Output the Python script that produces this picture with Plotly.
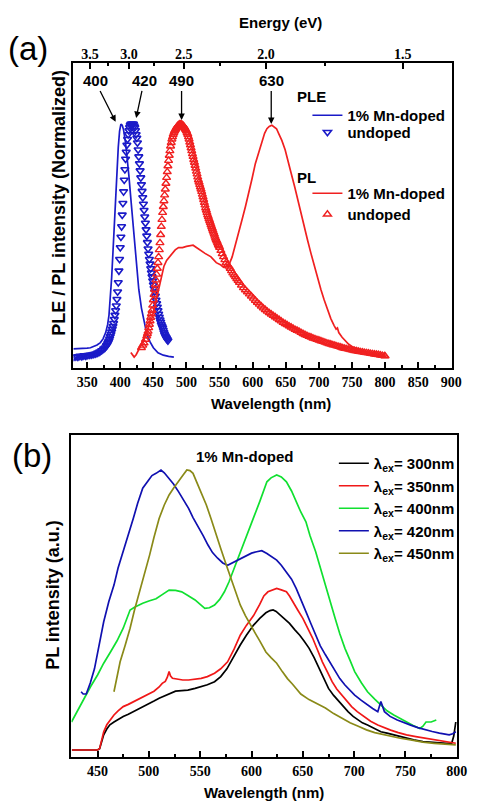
import plotly.graph_objects as go

# ---------------- panel (a): PLE / PL spectra (normalized) ----------------
ple_doped_wl = [329, 335, 340, 345, 350, 355, 360, 365, 370, 374, 378, 381, 383, 385, 387, 389, 391, 393,
                395, 397, 399, 401, 403, 405, 408, 410, 413, 416, 419, 422, 425, 428, 432, 436, 440, 445,
                450, 457, 465, 473, 481]
ple_doped_val = [0.035, 0.035, 0.036, 0.037, 0.038, 0.04, 0.045, 0.052, 0.062, 0.078, 0.105, 0.14, 0.18, 0.25,
                 0.34, 0.45, 0.57, 0.69, 0.80, 0.90, 0.97, 1.0, 0.995, 0.975, 0.92, 0.87, 0.78, 0.68, 0.58,
                 0.47, 0.37, 0.29, 0.21, 0.15, 0.10, 0.065, 0.04, 0.018, 0.008, 0.003, 0.0]

ple_undoped_wl = [330, 333, 336, 339, 342, 345, 348, 351, 354, 357, 360, 363, 366, 369, 372, 375, 377, 379,
                  380, 381, 382, 383, 384, 385, 386, 387, 388, 389, 390, 391, 392, 393, 394, 395, 396, 397,
                  398, 399, 400, 401, 402, 403, 404, 405, 406, 407, 408, 409, 410, 411, 412, 413, 414, 415,
                  416, 417, 418, 419, 420, 421, 422, 423, 424, 425, 426, 427, 428, 429, 430, 431, 432, 433,
                  434, 435, 436, 437, 438, 439, 440, 441, 442, 443, 444, 445, 446, 447, 448, 449, 450, 451,
                  452, 453, 454, 455, 456, 457, 458, 459, 460, 461, 462, 463, 464, 465, 466, 467, 468, 469,
                  470, 471, 472]
ple_undoped_val = [0.0, 0.002, 0.0, 0.004, 0.003, 0.006, 0.005, 0.008, 0.009, 0.01, 0.012, 0.014, 0.018,
                   0.022, 0.028, 0.035, 0.04, 0.048, 0.052, 0.058, 0.064, 0.07, 0.078, 0.088, 0.098, 0.108,
                   0.12, 0.132, 0.145, 0.162, 0.18, 0.2, 0.22, 0.248, 0.28, 0.32, 0.37, 0.42, 0.47, 0.515,
                   0.56, 0.61, 0.66, 0.71, 0.76, 0.805, 0.85, 0.88, 0.91, 0.935, 0.955, 0.972, 0.985, 0.995,
                   1.0, 1.0, 1.0, 1.0, 1.0, 0.993, 0.985, 0.972, 0.955, 0.94, 0.92, 0.89, 0.86, 0.83, 0.80,
                   0.77, 0.74, 0.712, 0.685, 0.657, 0.63, 0.602, 0.575, 0.547, 0.52, 0.492, 0.465, 0.442,
                   0.42, 0.40, 0.38, 0.362, 0.345, 0.327, 0.31, 0.295, 0.28, 0.262, 0.245, 0.23, 0.215, 0.20,
                   0.185, 0.172, 0.16, 0.15, 0.14, 0.132, 0.125, 0.115, 0.105, 0.097, 0.09, 0.085, 0.08,
                   0.075, 0.07]

pl_doped_wl = [416, 418, 421, 424, 428, 432, 435, 438, 442, 445, 448, 452, 455.5, 459, 463, 466, 470, 474,
               478, 483, 488, 494, 500, 505, 510, 515, 520, 528, 537, 545, 552, 556, 560, 564, 569, 574,
               579, 584, 589, 594, 599, 604, 609, 614, 618, 621.5, 625, 629, 632, 636, 640, 644, 649,
               653.5, 658, 663.5, 668, 673.5, 678, 683, 688, 693, 698, 703, 708, 713, 718, 723, 726, 728,
               730, 735, 740, 745, 750, 756, 762, 770, 780, 790, 800]
pl_doped_val = [0.02, 0.01, 0.0, 0.01, 0.03, 0.05, 0.07, 0.09, 0.12, 0.145, 0.17, 0.215, 0.26, 0.31, 0.36,
                0.39, 0.415, 0.43, 0.445, 0.46, 0.47, 0.47, 0.475, 0.478, 0.48, 0.47, 0.46, 0.445, 0.43,
                0.405, 0.395, 0.385, 0.39, 0.395, 0.43, 0.48, 0.535, 0.59, 0.645, 0.70, 0.765, 0.83, 0.88,
                0.93, 0.96, 0.98, 0.99, 0.995, 0.99, 0.98, 0.955, 0.93, 0.89, 0.845, 0.79, 0.73, 0.675,
                0.617, 0.56, 0.50, 0.445, 0.39, 0.34, 0.29, 0.245, 0.20, 0.165, 0.135, 0.12, 0.125, 0.105,
                0.085, 0.068, 0.055, 0.045, 0.036, 0.03, 0.022, 0.016, 0.01, 0.004]

pl_undoped_wl = [432, 434, 436, 438, 440, 441, 442, 443, 444, 445, 446, 447, 448, 449, 450, 451, 452, 453,
                 454, 455, 456, 457, 458, 459, 460, 461, 462, 463, 464, 465, 466, 467, 468, 469, 470, 471,
                 472, 473, 474, 475, 476, 477, 478, 479, 480, 481, 482, 483, 484, 485, 486, 487, 488, 489,
                 490, 491, 492, 493, 494, 495, 496, 497, 498, 499, 500, 501, 502, 503, 504, 505, 506, 507,
                 508, 509, 510, 511, 512, 513, 514, 515, 516, 517, 518, 519, 520, 521, 522, 523, 524, 525,
                 526, 527, 528, 529, 530, 531, 532, 533, 534, 535, 536, 537, 538, 539, 540, 541, 542, 543,
                 544, 545, 546, 547, 548, 549, 550, 552, 554, 556, 558, 560, 562, 564, 566, 568, 570, 572,
                 574, 576, 578, 580, 583, 586, 589, 592, 595, 598, 601, 604, 607, 610, 613, 616, 619, 622,
                 625, 628, 631, 634, 637, 640, 643, 646, 649, 652, 655, 658, 661, 664, 667, 670, 673, 676,
                 679, 682, 685, 688, 691, 694, 697, 700, 703, 706, 709, 712, 715, 718, 721, 724, 727, 730,
                 733, 736, 739, 742, 745, 748, 751, 754, 757, 760, 763, 766, 769, 772, 775, 778, 781, 784,
                 787, 790, 793, 796, 799, 800]
pl_undoped_val = [0.04, 0.05, 0.06, 0.075, 0.09, 0.10, 0.11, 0.125, 0.14, 0.155, 0.17, 0.185, 0.20, 0.222,
                  0.245, 0.268, 0.29, 0.31, 0.33, 0.355, 0.38, 0.405, 0.43, 0.46, 0.49, 0.525, 0.56, 0.59,
                  0.62, 0.645, 0.67, 0.695, 0.72, 0.745, 0.77, 0.795, 0.82, 0.843, 0.865, 0.885, 0.905,
                  0.92, 0.935, 0.945, 0.955, 0.963, 0.97, 0.975, 0.98, 0.985, 0.99, 0.993, 0.995, 0.998,
                  1.0, 1.0, 1.0, 0.998, 0.995, 0.993, 0.99, 0.985, 0.98, 0.975, 0.97, 0.962, 0.955, 0.945,
                  0.935, 0.922, 0.91, 0.897, 0.885, 0.872, 0.86, 0.847, 0.835, 0.822, 0.81, 0.797, 0.785,
                  0.772, 0.76, 0.75, 0.74, 0.73, 0.72, 0.71, 0.698, 0.687, 0.675, 0.663, 0.652, 0.64, 0.63,
                  0.62, 0.61, 0.602, 0.593, 0.585, 0.577, 0.568, 0.56, 0.552, 0.543, 0.535, 0.527, 0.518,
                  0.51, 0.503, 0.497, 0.49, 0.483, 0.477, 0.47, 0.457, 0.443, 0.43, 0.417, 0.405, 0.395,
                  0.389, 0.38, 0.37, 0.36, 0.352, 0.344, 0.336, 0.328, 0.32, 0.308, 0.297, 0.288, 0.279,
                  0.27, 0.261, 0.252, 0.243, 0.234, 0.226, 0.218, 0.21, 0.203, 0.196, 0.19, 0.184, 0.178,
                  0.172, 0.166, 0.16, 0.154, 0.148, 0.143, 0.138, 0.133, 0.128, 0.123, 0.118, 0.114, 0.11,
                  0.105, 0.10, 0.096, 0.092, 0.088, 0.085, 0.081, 0.078, 0.075, 0.072, 0.069, 0.066, 0.063,
                  0.06, 0.057, 0.055, 0.052, 0.05, 0.047, 0.045, 0.042, 0.039, 0.037, 0.035, 0.033, 0.031,
                  0.029, 0.027, 0.026, 0.024, 0.022, 0.021, 0.019, 0.018, 0.017, 0.015, 0.014, 0.012, 0.011,
                  0.01, 0.008, 0.006, 0.005, 0.004]

# peak markers: wavelength label, arrow tip (wl, value)
peak_labels = ["400", "420", "490", "630"]
peak_tip_wl = [393, 424, 492.6, 628]
peak_tip_val = [1.01, 1.026, 1.017, 1.0]
peak_text_wl = [362, 436, 492.6, 628]

# top axis: photon energy
energy_major = [3.5, 3.0, 2.5, 2.0, 1.5]
energy_minor = [3.25, 2.75, 2.25, 1.75]
HC = 1240.0  # eV*nm

# ---------------- panel (b): PL of 1% Mn-doped at several excitations ----------------
ex300_wl = [425, 430, 435, 440, 445, 450, 452, 454, 456, 459, 462, 466, 470, 475, 480, 485, 490, 495, 500,
            505, 510, 515, 520, 526, 532, 538, 545, 551, 557, 564, 570, 576, 582, 589, 595, 602, 608, 614,
            618, 621, 624, 628, 632, 637, 642, 647, 651, 656, 661, 666, 670, 675, 680, 685, 690, 694, 699,
            704, 708, 713, 719, 726, 732, 738, 745, 751, 758, 767, 775, 783, 790, 795, 797, 799]
ex300_val = [0, 0, 0, 0, 0, 0, 0.005, 0.03, 0.054, 0.075, 0.09, 0.10, 0.11, 0.12, 0.128, 0.137, 0.146,
             0.155, 0.165, 0.175, 0.185, 0.192, 0.2, 0.21, 0.212, 0.214, 0.22, 0.226, 0.233, 0.244, 0.262,
             0.29, 0.33, 0.375, 0.41, 0.446, 0.47, 0.49, 0.498, 0.5, 0.495, 0.482, 0.47, 0.452, 0.43, 0.41,
             0.39, 0.364, 0.33, 0.29, 0.255, 0.22, 0.195, 0.173, 0.152, 0.137, 0.12, 0.107, 0.097, 0.089,
             0.077, 0.065, 0.06, 0.054, 0.048, 0.042, 0.036, 0.03, 0.027, 0.024, 0.024, 0.024, 0.05, 0.1]

ex350_wl = [425, 430, 435, 440, 445, 450, 452, 454, 456, 459, 462, 466, 470, 475, 480, 485, 490, 495, 500,
            505, 510, 513, 516, 518, 519.7, 521, 523, 528, 533, 538.7, 545, 551, 557, 564, 570, 576.7, 583,
            589, 595, 602, 608, 612, 616, 620, 624.5, 629, 634, 637, 640.5, 645, 650, 655, 659.5, 664, 669,
            674, 678.5, 683, 688, 693, 697.5, 703, 710, 716, 723, 729, 735.5, 743, 751, 760, 770, 780, 789,
            799]
ex350_val = [0, 0, 0, 0, 0, 0, 0.005, 0.035, 0.065, 0.09, 0.105, 0.125, 0.14, 0.155, 0.163, 0.172, 0.18,
             0.19, 0.2, 0.21, 0.225, 0.238, 0.245, 0.26, 0.28, 0.265, 0.256, 0.252, 0.25, 0.25, 0.252,
             0.256, 0.262, 0.274, 0.29, 0.315, 0.36, 0.41, 0.445, 0.48, 0.52, 0.55, 0.565, 0.572, 0.577,
             0.572, 0.565, 0.55, 0.53, 0.5, 0.47, 0.435, 0.40, 0.36, 0.315, 0.278, 0.244, 0.218, 0.196,
             0.175, 0.155, 0.137, 0.119, 0.103, 0.089, 0.08, 0.071, 0.062, 0.054, 0.048, 0.042, 0.036,
             0.03, 0.024]

ex400_wl = [424.6, 430, 437, 443, 450, 456, 462.6, 469, 475, 479, 481.7, 486, 490, 494, 500, 507, 513,
            519.7, 526, 532, 538, 545, 550, 554.5, 559, 564, 569, 573.6, 578, 583, 589, 595.6, 602, 608,
            612, 615, 619, 624.5, 629, 634, 639, 643.5, 648, 653, 657, 662.5, 667, 672, 677, 681.5, 686,
            691, 696, 700.5, 707, 713, 720, 726, 732, 738.6, 745, 751, 757, 764, 767, 770, 775, 780]
ex400_val = [0.10, 0.137, 0.185, 0.225, 0.268, 0.31, 0.35, 0.39, 0.435, 0.47, 0.5, 0.51, 0.518, 0.524,
             0.532, 0.54, 0.555, 0.571, 0.57, 0.565, 0.552, 0.536, 0.52, 0.506, 0.508, 0.518, 0.538,
             0.565, 0.6, 0.649, 0.71, 0.768, 0.83, 0.887, 0.93, 0.958, 0.972, 0.982, 0.975, 0.958, 0.925,
             0.887, 0.85, 0.815, 0.765, 0.708, 0.65, 0.589, 0.53, 0.47, 0.415, 0.363, 0.32, 0.28, 0.24,
             0.208, 0.182, 0.16, 0.14, 0.125, 0.112, 0.10, 0.088, 0.077, 0.085, 0.10, 0.1, 0.107]

ex420_wl = [434, 436, 439, 443, 447, 451, 456, 461, 466, 470, 475, 480, 484.8, 489, 494, 500, 503, 507,
            511.8, 515, 519.7, 524, 529, 534, 538.7, 543, 548, 553, 557.6, 562, 567, 572, 576.7, 581, 586,
            590, 595.6, 600, 605, 610, 615, 620, 624.5, 629, 634, 639, 643.5, 648, 653, 658, 662.5, 667,
            672, 677, 681.5, 686, 691, 696, 700.5, 707, 713, 718, 723, 726, 729.5, 735, 742, 748, 755, 762,
            770, 776, 783, 789, 792.6, 796, 799]
ex420_val = [0.208, 0.20, 0.20, 0.24, 0.29, 0.37, 0.458, 0.53, 0.589, 0.65, 0.708, 0.77, 0.827, 0.88,
             0.935, 0.965, 0.98, 0.988, 1.0, 0.99, 0.97, 0.95, 0.922, 0.893, 0.863, 0.83, 0.80, 0.765,
             0.732, 0.705, 0.685, 0.668, 0.66, 0.668, 0.678, 0.685, 0.696, 0.703, 0.708, 0.712, 0.702,
             0.69, 0.678, 0.66, 0.637, 0.61, 0.577, 0.535, 0.494, 0.45, 0.41, 0.372, 0.34, 0.31, 0.28,
             0.255, 0.232, 0.212, 0.196, 0.177, 0.16, 0.148, 0.137, 0.173, 0.137, 0.12, 0.107, 0.098,
             0.089, 0.08, 0.071, 0.066, 0.06, 0.056, 0.054, 0.058, 0.065]

ex450_wl = [466, 469, 472, 477, 481.7, 486, 491, 496, 500.7, 505, 510, 515, 519.7, 524, 529, 533, 537, 540,
            543, 547, 551, 556, 560.5, 565, 570, 575, 579.7, 584, 589, 594, 599, 604, 608, 614, 619, 624.5,
            630, 635, 640, 648, 656, 664, 672, 680, 688, 696, 704, 712, 720, 728, 735.5, 745, 755, 767,
            778, 789, 799]
ex450_val = [0.208, 0.26, 0.315, 0.375, 0.435, 0.5, 0.565, 0.63, 0.696, 0.76, 0.827, 0.875, 0.911, 0.935,
             0.958, 0.98, 1.0, 0.998, 0.988, 0.955, 0.922, 0.875, 0.827, 0.773, 0.72, 0.665, 0.613, 0.565,
             0.518, 0.48, 0.445, 0.415, 0.39, 0.35, 0.33, 0.31, 0.28, 0.255, 0.235, 0.2, 0.18, 0.165,
             0.15, 0.13, 0.113, 0.097, 0.085, 0.072, 0.062, 0.055, 0.048, 0.042, 0.036, 0.028, 0.024,
             0.021, 0.018]

excitation_labels = ["300", "350", "400", "420", "450"]
excitation_colors = ["#000000", "#f01818", "#10e030", "#1010b0", "#8a8a18"]

W, H = 478, 801


def px(x):
    return x / W


def py(y):
    return 1 - y / H


SANS = "Liberation Sans"
SERIF = "Liberation Serif"
BLUE = "#1a1ac8"
RED = "#f02020"

fig = go.Figure()

# panel (a) traces, one legend box per entry so rows sit where wanted
fig.add_trace(go.Scatter(x=ple_doped_wl, y=ple_doped_val, mode="lines", name="1% Mn-doped",
                         line=dict(color=BLUE, width=1.7), xaxis="x", yaxis="y", legend="legend"))
fig.add_trace(go.Scatter(x=ple_undoped_wl, y=ple_undoped_val, mode="markers", name="undoped",
                         marker=dict(symbol="triangle-down-open", color=BLUE, size=7,
                                     line=dict(width=1.6, color=BLUE)),
                         xaxis="x", yaxis="y", legend="legend2"))
fig.add_trace(go.Scatter(x=pl_undoped_wl, y=pl_undoped_val, mode="markers", name="undoped",
                         marker=dict(symbol="triangle-up-open", color=RED, size=7,
                                     line=dict(width=1.4, color=RED)),
                         xaxis="x", yaxis="y", legend="legend4"))
fig.add_trace(go.Scatter(x=pl_doped_wl, y=pl_doped_val, mode="lines", name="1% Mn-doped",
                         line=dict(color=RED, width=1.7), xaxis="x", yaxis="y", legend="legend3"))
# invisible trace that carries the top energy axis
fig.add_trace(go.Scatter(x=[ple_doped_wl[0]], y=[ple_doped_val[0]], mode="markers",
                         marker=dict(opacity=0), showlegend=False, hoverinfo="skip",
                         xaxis="x3", yaxis="y"))

# panel (b) traces
series_b = [(ex300_wl, ex300_val), (ex350_wl, ex350_val), (ex400_wl, ex400_val),
            (ex420_wl, ex420_val), (ex450_wl, ex450_val)]
for (wl, val), lab, col in zip(series_b, excitation_labels, excitation_colors):
    fig.add_trace(go.Scatter(x=wl, y=val, mode="lines", name=f"λ<sub>ex</sub>= {lab}nm",
                             line=dict(color=col, width=1.7), xaxis="x2", yaxis="y2",
                             legend="legend5"))

tickfont = dict(family=SERIF, size=14, color="black", weight="bold")
frame = dict(showline=True, linewidth=2, linecolor="black", mirror=True, showgrid=False, zeroline=False)
legfont = dict(family=SANS, size=15, color="black", weight="bold")


def legend_at(x, top):
    return dict(x=px(x), y=py(top), xanchor="left", yanchor="top", bgcolor="rgba(0,0,0,0)",
                font=legfont, tracegroupgap=0, itemwidth=30)


fig.update_layout(
    width=W, height=H, margin=dict(l=0, r=0, t=0, b=0),
    paper_bgcolor="white", plot_bgcolor="white", showlegend=True,
    xaxis=dict(domain=[px(75), px(462)], anchor="y", range=[329.3, 901.5], tick0=350, dtick=50,
               ticks="inside", ticklen=6, tickwidth=1.5, tickcolor="black", tickfont=tickfont,
               minor=dict(dtick=25, tick0=350, ticks="inside", ticklen=3, tickwidth=1.5, tickcolor="black"),
               **frame),
    xaxis3=dict(overlaying="x", side="top", anchor="y", range=[329.3, 901.5], tickmode="array",
                tickvals=[HC / e for e in energy_major], ticktext=[f"{e:.1f}" for e in energy_major],
                ticks="inside", ticklen=6, tickwidth=1.5, tickcolor="black", tickfont=tickfont,
                minor=dict(tickmode="array", tickvals=[HC / e for e in energy_minor], ticks="inside",
                           ticklen=3, tickwidth=1.5, tickcolor="black"),
                showline=False, showgrid=False, zeroline=False),
    yaxis=dict(domain=[py(368), py(63)], anchor="x", range=[-0.047, 1.262], showticklabels=False,
               ticks="", **frame),
    xaxis2=dict(domain=[px(73), px(467)], anchor="y2", range=[424.6, 800.4], tick0=450, dtick=50,
                ticks="inside", ticklen=6, tickwidth=1.5, tickcolor="black", tickfont=tickfont,
                minor=dict(dtick=25, tick0=450, ticks="inside", ticklen=3, tickwidth=1.5, tickcolor="black"),
                **frame),
    yaxis2=dict(domain=[py(757), py(435)], anchor="x2", range=[-0.025, 1.125], showticklabels=False,
                ticks="", **frame),
    legend=legend_at(314, 99),
    legend2=legend_at(314, 116),
    legend3=legend_at(314, 177),
    legend4=legend_at(314, 198),
    legend5=legend_at(341, 447),
)

ann = []
# peak arrows in panel (a)
for lab, tx, tv, lx in zip(peak_labels, peak_tip_wl, peak_tip_val, peak_text_wl):
    ann.append(dict(x=tx, y=tv, xref="x", yref="y", ax=lx, ay=1.185, axref="x", ayref="y",
                    text=lab, showarrow=True, arrowhead=2, arrowsize=1, arrowwidth=1.3,
                    arrowcolor="black", font=dict(family=SANS, size=15, color="black", weight="bold")))


def label(text, x, y, size=15, family=SANS, angle=0, weight="bold"):
    ann.append(dict(text=text, x=px(x), y=py(y), xref="paper", yref="paper", showarrow=False,
                    xanchor="center", yanchor="middle", textangle=angle,
                    font=dict(family=family, size=size, color="black", weight=weight)))


label("(a)", 29, 48, size=33, weight="normal")
label("(b)", 33, 456, size=33, weight="normal")
label("Energy (eV)", 287, 23)
label("PLE", 318, 97)
label("PL", 313, 177)
label("Wavelength (nm)", 277, 403)
label("Wavelength (nm)", 270, 792)
label("PLE / PL intensity (Normalized)", 60, 203, size=18, angle=-90)
label("PL intensity (a.u.)", 54, 595, size=18, angle=-90)
label("1% Mn-doped", 250, 457)

fig.update_layout(annotations=ann)
fig.write_html("out.html")
